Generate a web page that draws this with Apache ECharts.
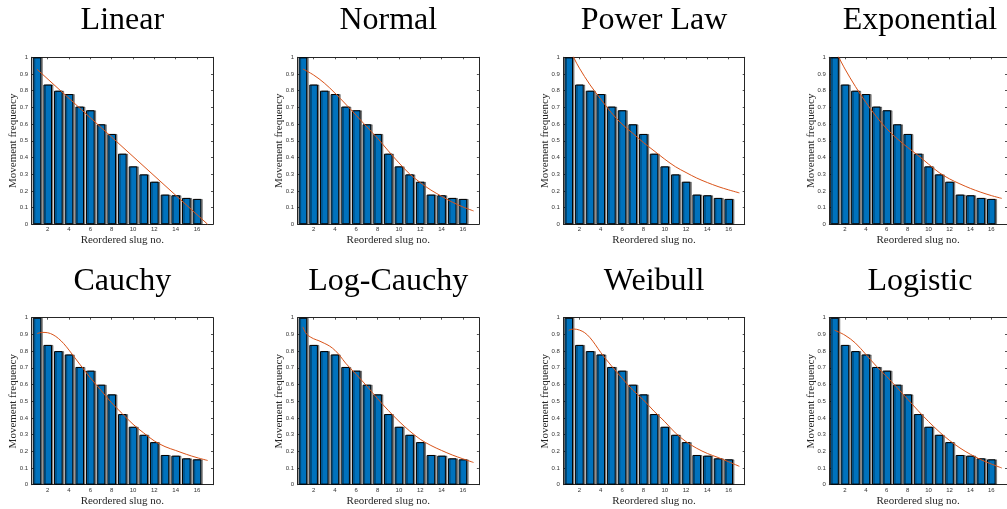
<!DOCTYPE html>
<html>
<head>
<meta charset="utf-8">
<script src="https://cdn.jsdelivr.net/npm/echarts@6/dist/echarts.min.js"></script>
<style>
  html, body { margin: 0; padding: 0; background: #fff; }
  #chart { width: 1007px; height: 509px; }
</style>
</head>
<body>
<div id="chart"></div>
<script>
// ---- data ----
const slugs = [1, 2, 3, 4, 5, 6, 7, 8, 9, 10, 11, 12, 13, 14, 15, 16];
const frequency = [1.0, 0.837, 0.80, 0.78, 0.705, 0.683, 0.599, 0.541, 0.423, 0.347, 0.299, 0.255, 0.178, 0.174, 0.158, 0.152];

const titles = ['Linear', 'Normal', 'Power Law', 'Exponential', 'Cauchy', 'Log-Cauchy', 'Weibull', 'Logistic'];

const fitLinear = [[1, 0.928], [17, 0.0]];
const fitNormal = [[1, 0.930], [2, 0.894], [3, 0.846], [4, 0.786], [5, 0.720], [6, 0.652], [7, 0.583], [8, 0.515], [9, 0.440], [10, 0.368], [11, 0.302], [12, 0.250], [13, 0.205], [14, 0.168], [15, 0.133], [16, 0.104], [17, 0.080]];
const fitPower = [[1, 1.07], [1.5, 0.995], [2, 0.935], [3, 0.835], [4, 0.750], [5, 0.668], [6, 0.600], [7, 0.545], [8, 0.490], [9, 0.440], [10, 0.390], [11, 0.345], [12, 0.310], [13, 0.277], [14, 0.250], [15, 0.226], [16, 0.206], [17, 0.188]];
const fitExponential = [[1, 1.05], [2, 0.930], [3, 0.825], [4, 0.730], [5, 0.645], [6, 0.572], [7, 0.512], [8, 0.460], [9, 0.412], [10, 0.360], [11, 0.310], [12, 0.272], [13, 0.242], [14, 0.215], [15, 0.192], [16, 0.172], [17, 0.155]];
const fitCauchy = [[1, 0.905], [1.5, 0.912], [2, 0.910], [2.5, 0.898], [3, 0.876], [3.5, 0.845], [4, 0.806], [5, 0.722], [6, 0.640], [7, 0.565], [8, 0.490], [9, 0.425], [10, 0.362], [11, 0.310], [12, 0.262], [13, 0.228], [14, 0.205], [15, 0.182], [16, 0.162], [17, 0.145]];
const fitLogCauchy = [[1, 0.945], [1.25, 0.910], [1.5, 0.893], [2, 0.874], [2.5, 0.862], [3, 0.847], [3.5, 0.830], [4, 0.805], [4.5, 0.770], [5, 0.728], [6, 0.660], [7, 0.590], [8, 0.515], [9, 0.445], [10, 0.380], [11, 0.322], [12, 0.272], [13, 0.235], [14, 0.205], [15, 0.178], [16, 0.155], [17, 0.133]];
const fitWeibull = [[1, 0.925], [1.5, 0.932], [2, 0.926], [2.5, 0.910], [3, 0.880], [3.5, 0.838], [4, 0.792], [5, 0.712], [6, 0.638], [7, 0.567], [8, 0.508], [9, 0.440], [10, 0.378], [11, 0.310], [12, 0.258], [13, 0.218], [14, 0.187], [15, 0.163], [16, 0.137], [17, 0.110]];
const fitLogistic = [[1, 0.925], [2, 0.895], [3, 0.848], [4, 0.780], [5, 0.710], [6, 0.647], [7, 0.580], [8, 0.512], [9, 0.443], [10, 0.378], [11, 0.318], [12, 0.265], [13, 0.220], [14, 0.182], [15, 0.150], [16, 0.124], [17, 0.100]];

const xTickValues = [2, 4, 6, 8, 10, 12, 14, 16];
const xLabel = 'Reordered slug no.';
const yLabel = 'Movement frequency';

const fits = [fitLinear, fitNormal, fitPower, fitExponential, fitCauchy, fitLogCauchy, fitWeibull, fitLogistic];

// ---- layout ----
const lefts = [31.7, 297.6, 563.4, 829.3];
const tops = [57.3, 317.7];
const W = 181.3, H = 167;
const axisColor = '#262626';
const serif = '"Liberation Serif", "DejaVu Serif", serif';
const sans = '"Liberation Sans", Arial, sans-serif';

const grid = [], xAxis = [], yAxis = [], series = [], graphic = [];

for (let i = 0; i < 8; i++) {
  const col = i % 4, row = Math.floor(i / 4);
  grid.push({ left: lefts[col], top: tops[row], width: W, height: H, containLabel: false });

  const axisLine = { show: true, onZero: false, lineStyle: { color: axisColor, width: 1 } };
  const tickStyle = { color: axisColor, width: 0.8 };

  xAxis.push({
    type: 'value', gridIndex: i, min: 0.5, max: 17.5, position: 'bottom',
    axisLine: axisLine,
    axisTick: { show: true, inside: true, length: 2, customValues: xTickValues, lineStyle: tickStyle },
    axisLabel: { show: true, customValues: xTickValues, fontSize: 6, fontFamily: sans, color: '#333', margin: 2.5 },
    splitLine: { show: false },
    name: xLabel, nameLocation: 'middle', nameGap: 10.5, nameMoveOverlap: false,
    nameTextStyle: { fontFamily: serif, fontSize: 11, color: '#262626' }
  });
  xAxis.push({
    type: 'value', gridIndex: i, min: 0.5, max: 17.5, position: 'top',
    axisLine: axisLine,
    axisTick: { show: true, inside: true, length: 2, customValues: xTickValues, lineStyle: tickStyle },
    axisLabel: { show: false },
    splitLine: { show: false }
  });
  yAxis.push({
    type: 'value', gridIndex: i, min: 0, max: 1, interval: 0.1, position: 'left',
    axisLine: axisLine,
    axisTick: { show: true, inside: true, length: 2, lineStyle: tickStyle },
    axisLabel: { show: true, fontSize: 6, fontFamily: sans, color: '#333', margin: 3.5 },
    splitLine: { show: false },
    name: yLabel, nameLocation: 'middle', nameGap: 13, nameRotate: 90, nameMoveOverlap: false,
    nameTextStyle: { fontFamily: serif, fontSize: 11, color: '#262626' }
  });
  yAxis.push({
    type: 'value', gridIndex: i, min: 0, max: 1, interval: 0.1, position: 'right',
    axisLine: axisLine,
    axisTick: { show: true, inside: true, length: 2, lineStyle: tickStyle },
    axisLabel: { show: false },
    splitLine: { show: false }
  });

  series.push({
    type: 'bar',
    xAxisIndex: 2 * i, yAxisIndex: 2 * i,
    data: slugs.map((s, k) => [s, frequency[k]]),
    barWidth: 8.6,
    itemStyle: {
      color: '#0072BD', borderColor: '#000', borderWidth: 1,
      shadowColor: 'rgba(0,0,0,0.4)', shadowOffsetX: 1.5, shadowOffsetY: 0, shadowBlur: 0
    },
    emphasis: { disabled: true },
    silent: true
  });
  series.push({
    type: 'line',
    xAxisIndex: 2 * i, yAxisIndex: 2 * i,
    data: fits[i],
    smooth: i === 0 ? false : 0.35,
    showSymbol: false,
    clip: true,
    lineStyle: { color: '#D95319', width: 1 },
    z: 5,
    silent: true
  });

  graphic.push({
    type: 'text',
    x: lefts[col] + W / 2,
    y: tops[row] - 36.5,
    style: {
      text: titles[i], fontSize: 32, fontFamily: serif, fill: '#000',
      align: 'center', verticalAlign: 'middle'
    }
  });
}

const chart = echarts.init(document.getElementById('chart'), null, { renderer: 'canvas' });
chart.setOption({
  animation: false,
  backgroundColor: '#fff',
  grid, xAxis, yAxis, series, graphic
});
</script>
</body>
</html>
